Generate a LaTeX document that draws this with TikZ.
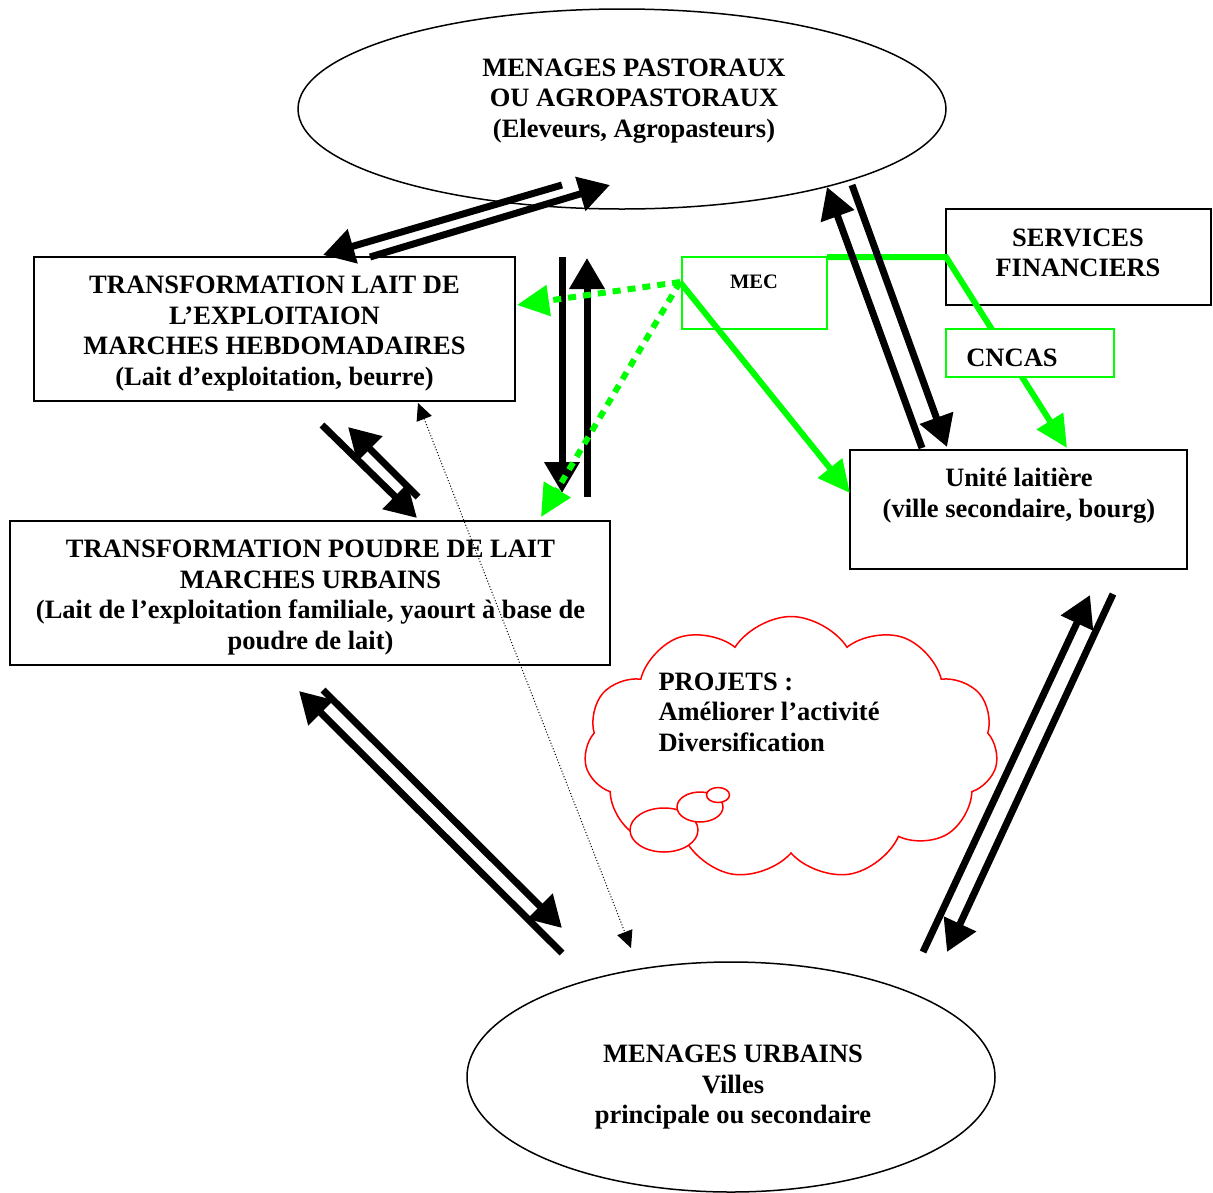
\documentclass[tikz,border=0pt]{standalone}
\usepackage{fontspec}
\setmainfont{Liberation Serif}
\usetikzlibrary{arrows.meta,shapes.geometric,shapes.symbols}
\definecolor{vert}{RGB}{0,255,0}
\definecolor{rouge}{RGB}{255,0,0}

\begin{document}
\begin{tikzpicture}[x=1pt,y=-1pt,
  every node/.style={font=\fontsize{26.5}{30.5}\selectfont\bfseries},
  boite/.style={draw,line width=1.5pt,inner sep=0pt},
  boiteverte/.style={draw=vert,line width=1.5pt,inner sep=0pt},
  ovale/.style={ellipse,draw,line width=1.5pt,inner sep=0pt},
  fleche/.style={line width=7pt,-{Triangle[length=31pt,width=34pt]}},
  liensolide/.style={draw=vert,line width=6pt},
  lienpoint/.style={draw=vert,line width=6pt,dash pattern=on 8pt off 7pt,
    -{Triangle[length=32pt,width=30pt]}},
  pointe/.style={-{Triangle[length=32pt,width=30pt]}},
  fin/.style={line width=1pt,dotted,
    {Triangle[length=17pt,width=16pt]}-{Triangle[length=17pt,width=16pt]}}]
\useasboundingbox (0,0) rectangle (1213,1192);

% --- households and processing units
\node[ovale,minimum width=648pt,minimum height=200pt] (pasto) at (622,109) {};
\node[align=center] (pastotxt) at (634,101) {MENAGES PASTORAUX\\OU AGROPASTORAUX\\(Eleveurs, Agropasteurs)};

\node[boite,minimum width=481pt,minimum height=144pt] (tlait) at (274.5,329) {};
\node[align=center] (tlaittxt) at (274.5,333.5) {TRANSFORMATION LAIT DE\\L’EXPLOITAION\\MARCHES HEBDOMADAIRES\\(Lait d’exploitation, beurre)};

\node[boite,minimum width=600pt,minimum height=144pt] (tpoudre) at (310,593) {};
\node[align=center] (tpoudretxt) at (310.5,597.5) {TRANSFORMATION POUDRE DE LAIT\\MARCHES URBAINS\\(Lait de l’exploitation familiale, yaourt à base de\\poudre de lait)};

\node[boite,minimum width=337pt,minimum height=119pt] (unite) at (1018.5,509.5) {};
\node[align=center] (unitetxt) at (1019,495.5) {Unité laitière\\(ville secondaire, bourg)};

\node[boite,minimum width=265pt,minimum height=96pt] (services) at (1078.5,257) {};
\node[align=center] (servicestxt) at (1078,253) {SERVICES\\FINANCIERS};

\node[boiteverte,minimum width=145pt,minimum height=72pt] (mec) at (754.5,293) {};
\node[font=\fontsize{20.5}{24}\selectfont\bfseries] (mectxt) at (754,282) {MEC};

\node[ovale,minimum width=528pt,minimum height=230pt] (urbains) at (731,1077) {};
\node[align=center] (urbainstxt) at (733,1087.5) {MENAGES URBAINS\\Villes\\principale ou secondaire};

% --- project cloud
\node[cloud,draw=rouge,line width=1.5pt,cloud puffs=11,cloud puff arc=115,
  cloud ignores aspect,minimum width=414pt,minimum height=263pt] (projets) at (791,748) {};
\draw[rouge,line width=1.5pt,fill=white] (664,830) ellipse [x radius=34pt,y radius=22pt];
\draw[rouge,line width=1.5pt,fill=white] (700,807) ellipse [x radius=23pt,y radius=15pt];
\draw[rouge,line width=1.5pt,fill=white] (718,795) ellipse [x radius=11.5pt,y radius=7.5pt];
\node[align=left,anchor=north west] (projetstxt) at (655,669) {PROJETS :\\Améliorer l’activité\\Diversification};

% --- anchor points of the connectors
\coordinate (hub) at (680,282);
\coordinate (mecne) at (827,257);
\coordinate (coude) at (946,257);
\coordinate (a1s) at (562,185); \coordinate (a1e) at (323,255);
\coordinate (b1s) at (370,257); \coordinate (b1e) at (610,185);
\coordinate (a2s) at (562,257); \coordinate (a2e) at (562,493);
\coordinate (b2s) at (587,497); \coordinate (b2e) at (587,258);
\coordinate (a3s) at (322,425); \coordinate (a3e) at (417,518);
\coordinate (b3s) at (418,497); \coordinate (b3e) at (348,427);
\coordinate (a4s) at (323,690); \coordinate (a4e) at (562,928);
\coordinate (b4s) at (562,953); \coordinate (b4e) at (299,691);
\coordinate (a5s) at (923,952); \coordinate (a5e) at (1090,595);
\coordinate (b5s) at (1113,594); \coordinate (b5e) at (947,952);
\coordinate (a6s) at (922,448); \coordinate (a6e) at (827,187);
\coordinate (b6s) at (852,185); \coordinate (b6e) at (947,447);
\coordinate (vtl) at (517,305); \coordinate (vtp) at (541,517);
\coordinate (vun) at (850,493); \coordinate (vcn) at (1067,448);
\coordinate (pt1) at (418,403); \coordinate (pt2) at (631,948);

% --- credit links (solid green)
\draw[liensolide,pointe,vert] (hub) -- (vun);
\draw[liensolide,pointe,vert,line join=miter] (mecne) -- (coude) -- (vcn);
\node[boiteverte,fill=white,minimum width=168pt,minimum height=48pt] (cncas) at (1030,353) {};
\node (cncastxt) at (1012,358) {CNCAS};

% --- product flows
\draw[fleche] (a1s) -- (a1e);
\draw[fleche] (b1s) -- (b1e);
\draw[fleche] (a2s) -- (a2e);
\draw[fleche] (b2s) -- (b2e);
\draw[fleche] (a3s) -- (a3e);
\draw[fleche] (b3s) -- (b3e);
\draw[fleche] (a4s) -- (a4e);
\draw[fleche] (b4s) -- (b4e);
\draw[fleche] (a5s) -- (a5e);
\draw[fleche] (b5s) -- (b5e);
\draw[fleche] (a6s) -- (a6e);
\draw[fleche] (b6s) -- (b6e);

% --- credit links (dotted green)
\draw[lienpoint,vert] (hub) -- (vtl);
\draw[lienpoint,vert] (hub) -- (vtp);

% --- direct sales link
\draw[fin] (pt1) -- (pt2);
\end{tikzpicture}
\end{document}
